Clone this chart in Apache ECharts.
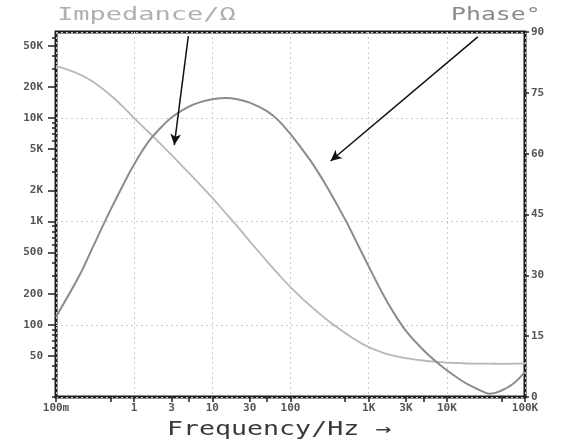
<!DOCTYPE html>
<html>
<head>
<meta charset="utf-8">
<script src="https://cdn.jsdelivr.net/npm/echarts@6/dist/echarts.min.js"></script>
<style>
  html, body { margin: 0; padding: 0; background: #fff; }
  #chart { width: 566px; height: 444px; }
</style>
</head>
<body>
<div id="chart"></div>
<script>
// Frequency points (Hz)
const freq = [0.1, 0.2, 0.3, 0.5, 0.7, 1, 1.5, 2, 3, 5, 7, 10, 15, 20, 30, 50, 70, 100, 150, 200,
    300, 500, 700, 1000, 1500, 2000, 3000, 5000, 7000, 10000, 15000, 20000, 30000, 35000, 50000, 70000, 100000];
// Impedance magnitude (ohm)
const impedance = [31900, 26500, 22300, 16600, 13100, 10000, 7410, 5990, 4400, 2950, 2260, 1690, 1190, 930,
    645, 411, 309, 231, 172, 142, 110, 83.4, 70.5, 60.7, 53.8, 50.5, 47.5, 45.1, 43.9, 43.0, 42.5, 42.2, 42.0, 42.0, 41.9, 42.0, 42.2];
// Phase (degrees)
const phase = [19.8, 30.0, 37.2, 46.2, 51.8, 57.4, 62.8, 65.6, 68.9, 71.6, 72.7, 73.4, 73.7, 73.5,
    72.6, 70.5, 68.2, 64.8, 60.4, 57.0, 51.5, 43.8, 38.2, 32.2, 25.6, 21.4, 16.3, 11.6, 9.0, 6.6, 4.2, 2.8, 1.2, 0.8, 1.6, 3.2, 6.2];

// Axis tick / label values
const xLabelVals = [0.1, 1, 3, 10, 30, 100, 1000, 3000, 10000, 100000];
const xTickVals = [0.1, 0.5, 1, 3, 5, 10, 30, 50, 100, 500, 1000, 3000, 5000, 10000, 50000, 100000];
const yLabelVals = [50, 100, 200, 500, 1000, 2000, 5000, 10000, 20000, 50000];

// Arrow annotations: [from, to] in data units
const impArrow = [[4.93, 62000], [3.26, 5480]];
const phaseArrow = [[24900, 88.8], [326, 58.2]];

// minor ticks on the impedance axis: every n * 10^k
const yMinorVals = [];
[10, 100, 1000, 10000].forEach(function (d) {
    for (let n = 1; n <= 9; n++) {
        const v = n * d;
        if (v >= 20 && v <= 68000) yMinorVals.push(v);
    }
});

const chart = echarts.init(document.getElementById('chart'));

const LABEL_FONT = {
    fontFamily: 'DejaVu Sans Mono',
    fontWeight: 'bold',
    fontSize: 11,
    color: '#555'
};

function fmtFreq(v) {
    if (v < 1) return Math.round(v * 1000) + 'm';
    if (v >= 1000) return Math.round(v / 1000) + 'K';
    return String(Math.round(v));
}
function fmtOhm(v) {
    if (v >= 1000) return Math.round(v / 1000) + 'K';
    return String(Math.round(v));
}

const gridLine = { show: true, lineStyle: { color: '#cccccc', type: [2, 3], width: 1 } };
const logX = { type: 'log', logBase: 10, min: 0.1, max: 100000, position: 'bottom' };
const logY = { type: 'log', logBase: 10, min: 20, max: 68000, position: 'left' };

function zip(a, b) {
    return a.map(function (v, i) { return [v, b[i]]; });
}

const option = {
    animation: false,
    backgroundColor: '#fff',
    grid: {
        left: 56, right: 41, top: 32, bottom: 47,
        show: true, borderColor: '#1c1c1c', borderWidth: 3
    },
    xAxis: [
        Object.assign({}, logX, {
            axisLine: { show: false },
            axisTick: { show: false },
            axisLabel: Object.assign({ customValues: xLabelVals, margin: 6, formatter: fmtFreq }, LABEL_FONT),
            splitLine: gridLine
        }),
        Object.assign({}, logX, {
            axisLine: { show: false },
            axisTick: { customValues: xTickVals, length: 5, lineStyle: { color: '#222', width: 1.5 } },
            axisLabel: { show: false },
            splitLine: { show: false }
        })
    ],
    yAxis: [
        Object.assign({}, logY, {
            axisLine: { show: false },
            axisTick: { show: false },
            axisLabel: Object.assign({ customValues: yLabelVals, margin: 13, formatter: fmtOhm }, LABEL_FONT),
            splitLine: gridLine
        }),
        {
            type: 'value', min: 0, max: 90, interval: 15, position: 'right',
            axisLine: { show: false },
            axisTick: { show: true, length: 4, lineStyle: { color: '#222', width: 1.5 } },
            axisLabel: Object.assign({ margin: 6 }, LABEL_FONT),
            splitLine: { show: false }
        },
        Object.assign({}, logY, {
            axisLine: { show: false },
            axisTick: { customValues: yMinorVals, length: 4, lineStyle: { color: '#222', width: 1.5 } },
            axisLabel: { show: false },
            splitLine: { show: false }
        }),
        Object.assign({}, logY, {
            axisLine: { show: false },
            axisTick: { customValues: yLabelVals, length: 8, lineStyle: { color: '#222', width: 1.5 } },
            axisLabel: { show: false },
            splitLine: { show: false }
        })
    ],
    series: [
        {
            name: 'Impedance',
            type: 'line',
            xAxisIndex: 0,
            yAxisIndex: 0,
            data: zip(freq, impedance),
            smooth: 0.4,
            symbol: 'none',
            lineStyle: { color: '#b8b8b8', width: 1.8 },
            markLine: {
                silent: true,
                symbol: ['none', 'arrow'],
                symbolSize: [8, 11],
                label: { show: false },
                lineStyle: { color: '#111', width: 1.5, type: 'solid' },
                data: [[{ coord: impArrow[0] }, { coord: impArrow[1] }]]
            }
        },
        {
            name: 'Phase',
            type: 'line',
            xAxisIndex: 0,
            yAxisIndex: 1,
            data: zip(freq, phase),
            smooth: 0.4,
            symbol: 'none',
            lineStyle: { color: '#8c8c8c', width: 2 },
            markLine: {
                silent: true,
                symbol: ['none', 'arrow'],
                symbolSize: [8, 11],
                label: { show: false },
                lineStyle: { color: '#111', width: 1.5, type: 'solid' },
                data: [[{ coord: phaseArrow[0] }, { coord: phaseArrow[1] }]]
            }
        }
    ],
    graphic: [
        {
            type: 'text', x: 57, y: 15, scaleX: 1.5,
            style: {
                text: 'Impedance/Ω', fill: '#b0b0b0',
                font: '18px "DejaVu Sans Mono"', verticalAlign: 'middle'
            }
        },
        {
            type: 'text', x: 451, y: 15, scaleX: 1.38,
            style: {
                text: 'Phase°', fill: '#8a8a8a',
                font: '18px "DejaVu Sans Mono"', verticalAlign: 'middle'
            }
        },
        {
            type: 'text', x: 167, y: 430, scaleX: 1.4,
            style: {
                text: 'Frequency/Hz →', fill: '#3a3a3a',
                font: '19px "DejaVu Sans Mono"', verticalAlign: 'middle'
            }
        }
    ]
};

chart.setOption(option);
</script>
</body>
</html>
